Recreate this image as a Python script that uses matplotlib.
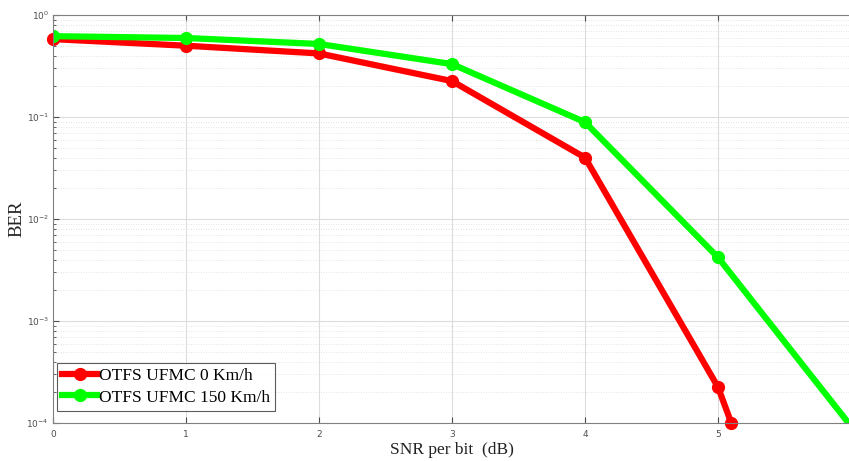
import matplotlib
matplotlib.use("Agg")
import matplotlib.pyplot as plt
from matplotlib.ticker import LogLocator, FixedLocator

snr = [0, 1, 2, 3, 4, 5, 5.1]
ber_0 = [0.58, 0.50, 0.42, 0.225, 0.040, 2.25e-4, 1.0e-4]
snr_150 = [0, 1, 2, 3, 4, 5, 6]
ber_150 = [0.62, 0.595, 0.52, 0.33, 0.089, 4.2e-3, 9.3e-5]
xticks = [0, 1, 2, 3, 4, 5]
labels = ["OTFS UFMC 0 Km/h", "OTFS UFMC 150 Km/h"]

fig = plt.figure(figsize=(8.49, 4.61), dpi=100)
ax = fig.add_axes([53/849, 38/461, (851-53)/849, (423-15)/461])

ax.semilogy(snr, ber_0, color=(1, 0, 0), lw=4.5, marker='o', ms=8.5, label=labels[0], clip_on=False)
ax.semilogy(snr_150, ber_150, color=(0, 1, 0), lw=4.5, marker='o', ms=8.5, label=labels[1])

ax.set_xlim(0, 6)
ax.set_ylim(1e-4, 1)
ax.xaxis.set_major_locator(FixedLocator(xticks))
ax.yaxis.set_major_locator(LogLocator(base=10, numticks=10))
ax.yaxis.set_minor_locator(LogLocator(base=10, subs=range(2, 10), numticks=20))

ax.grid(True, which='major', color='#dcdcdc', lw=0.8, ls='-')
ax.grid(True, which='minor', axis='y', color='#dadada', lw=0.6, ls=(0, (1, 2)))
ax.set_axisbelow(True)

for s in ['left', 'bottom', 'top']:
    ax.spines[s].set_color('#808080')
    ax.spines[s].set_linewidth(0.8)
ax.spines['right'].set_visible(False)
ax.tick_params(which='both', direction='in', colors='#4d4d4d', labelsize=6.5, top=True)
ax.tick_params(which='major', length=4)
ax.tick_params(which='minor', length=2)
ax.tick_params(axis='x', pad=5)
ax.tick_params(axis='y', pad=3)

ax.set_xlabel("SNR per bit  (dB)", family='Liberation Serif', fontsize=12.5, color='#222222', labelpad=2)
ax.set_ylabel("BER", family='Liberation Serif', fontsize=13.5, color='#222222')
ax.yaxis.set_label_coords(-0.035, 0.5)

leg = ax.legend(loc='lower left', bbox_to_anchor=(0.005, 0.03), prop={'family': 'Liberation Serif', 'size': 12.5},
                frameon=True, fancybox=False, handlelength=2.0, handletextpad=0.1,
                borderpad=0.3, labelspacing=0.3, borderaxespad=0.0)
leg.get_frame().set_edgecolor('#333333')
leg.get_frame().set_linewidth(0.8)

fig.savefig("out.png", dpi=100)
